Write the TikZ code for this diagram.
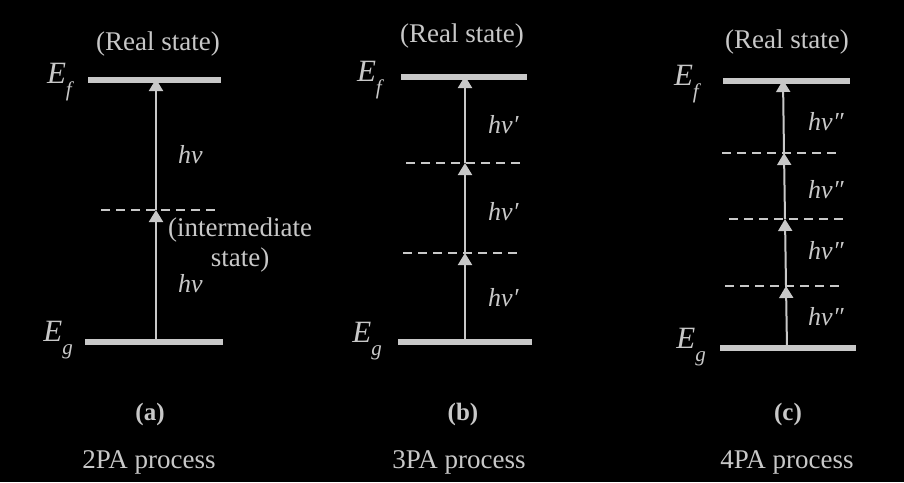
\documentclass[tikz,border=0pt]{standalone}
\usepackage{fontspec}
\setmainfont{Liberation Serif}
\usetikzlibrary{arrows.meta}
\definecolor{fg}{HTML}{C8C8C8}
\tikzset{
  level/.style={draw=fg,line width=5.5pt},
  virt/.style={draw=fg,line width=2.5pt,dash pattern=on 9pt off 6pt},
  photon/.style={draw=fg,line width=2pt,-{Triangle[width=14pt,length=12pt]}},
  txt/.style={text=fg,font=\fontsize{27}{30}\selectfont,inner sep=0pt},
  elbl/.style={text=fg,font=\fontsize{31}{34}\selectfont\itshape,inner sep=0pt,anchor=east},
  lbl/.style={text=fg,font=\fontsize{26}{29}\selectfont\itshape,inner sep=0pt,anchor=west},
  tag/.style={text=fg,font=\fontsize{25}{28}\selectfont\bfseries,inner sep=0pt},
}
\newcommand{\En}[1]{E\raisebox{-0.4em}{\fontsize{21}{24}\selectfont #1}}
\begin{document}
\begin{tikzpicture}[x=1pt,y=-1pt]
\fill[black] (0,0) rectangle (904,482);
\useasboundingbox (0,0) rectangle (904,482);
% ---------- panel (a)
\coordinate (af1) at (88,80); \coordinate (af2) at (221,80);
\coordinate (ag1) at (85,342); \coordinate (ag2) at (223,342);
\coordinate (ad1) at (101,210); \coordinate (ad2) at (218,210);
\draw[level] (af1) -- (af2);
\draw[level] (ag1) -- (ag2);
\draw[virt] (ad1) -- (ad2);
\coordinate (aa0) at (156,342); \coordinate (aa1) at (156,210); \coordinate (aa2) at (156,79);
\draw[photon] (aa0) -- (aa1);
\draw[photon] (aa1) -- (aa2);
\node[txt] (areal) at (158,44) {(Real state)};
\node[elbl] (aEf) at (72,82) {\En{f}};
\node[elbl] (aEg) at (73,340) {\En{g}};
\node[lbl] (ah1) at (178,155) {hν};
\node[lbl] (ah2) at (178,284) {hν};
\node[txt,align=center] (aint) at (240,245) {(intermediate\\state)};
\node[tag] (ta) at (150,414) {(a)};
\node[txt] (pa) at (149,462) {2PA process};
% ---------- panel (b)
\coordinate (bf1) at (401,77); \coordinate (bf2) at (527,77);
\coordinate (bg1) at (398,342); \coordinate (bg2) at (532,342);
\coordinate (bd1) at (406,163); \coordinate (bd2) at (522,163);
\coordinate (be1) at (403,253); \coordinate (be2) at (518,253);
\draw[level] (bf1) -- (bf2);
\draw[level] (bg1) -- (bg2);
\draw[virt] (bd1) -- (bd2);
\draw[virt] (be1) -- (be2);
\coordinate (ba0) at (465,342); \coordinate (ba1) at (465,253);
\coordinate (ba2) at (465,163); \coordinate (ba3) at (465,76);
\draw[photon] (ba0) -- (ba1);
\draw[photon] (ba1) -- (ba2);
\draw[photon] (ba2) -- (ba3);
\node[txt] (breal) at (462,36) {(Real state)};
\node[elbl] (bEf) at (382,80) {\En{f}};
\node[elbl] (bEg) at (382,341) {\En{g}};
\node[lbl] (bh1) at (488,125) {hν′};
\node[lbl] (bh2) at (488,212) {hν′};
\node[lbl] (bh3) at (488,298) {hν′};
\node[tag] (tb) at (463,414) {(b)};
\node[txt] (pb) at (459,462) {3PA process};
% ---------- panel (c)
\coordinate (cf1) at (723,81); \coordinate (cf2) at (850,81);
\coordinate (cg1) at (720,348); \coordinate (cg2) at (856,348);
\coordinate (cd1) at (722,153); \coordinate (cd2) at (839,153);
\coordinate (ce1) at (729,219); \coordinate (ce2) at (847,219);
\coordinate (ch1) at (725,286); \coordinate (ch2) at (842,286);
\draw[level] (cf1) -- (cf2);
\draw[level] (cg1) -- (cg2);
\draw[virt] (cd1) -- (cd2);
\draw[virt] (ce1) -- (ce2);
\draw[virt] (ch1) -- (ch2);
\coordinate (ca0) at (787,348); \coordinate (ca1) at (786,286);
\coordinate (ca2) at (785,219); \coordinate (ca3) at (784,153);
\coordinate (ca4) at (783,80);
\draw[photon] (ca0) -- (ca1);
\draw[photon] (ca1) -- (ca2);
\draw[photon] (ca2) -- (ca3);
\draw[photon] (ca3) -- (ca4);
\node[txt] (creal) at (787,42) {(Real state)};
\node[elbl] (cEf) at (699,84) {\En{f}};
\node[elbl] (cEg) at (706,347) {\En{g}};
\node[lbl] (chv1) at (808,122) {hν″};
\node[lbl] (chv2) at (808,190) {hν″};
\node[lbl] (chv3) at (808,251) {hν″};
\node[lbl] (chv4) at (808,317) {hν″};
\node[tag] (tc) at (788,414) {(c)};
\node[txt] (pc) at (787,462) {4PA process};
\end{tikzpicture}
\end{document}
